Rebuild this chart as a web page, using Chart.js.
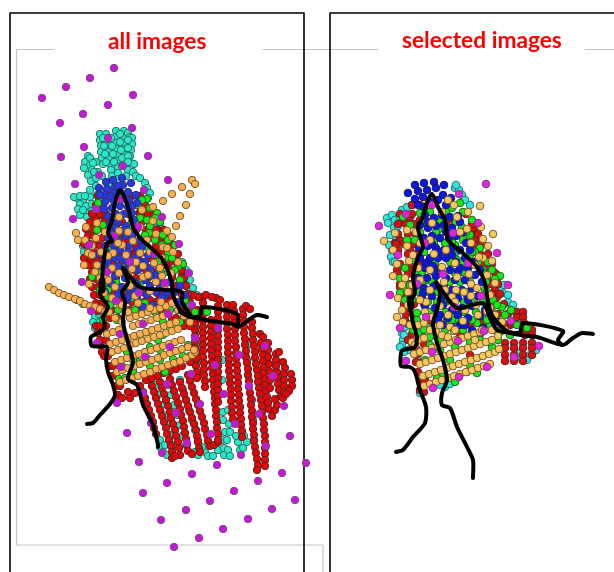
<!DOCTYPE html>
<html><head><meta charset="utf-8">
<style>
html,body{margin:0;padding:0;background:#fff;width:614px;height:572px;overflow:hidden}
#wrap{position:relative;width:614px;height:572px}
canvas{position:absolute;left:0;top:0;filter:blur(0.4px)}
.t{position:absolute;color:#f00;font:bold 22.7px Lato,sans-serif;white-space:nowrap;line-height:24px}
</style>
<script src="https://cdn.jsdelivr.net/npm/chart.js@4"></script>
</head><body>
<div id="wrap"><canvas id="c" width="614" height="572"></canvas>
<div class="t" id="t1" style="left:108px;top:29px">all images</div>
<div class="t" id="t2" style="left:402px;top:28px">selected images</div></div>
<script>
const leftCyan=[100,134,100,140,101,146,101,152,102,158,103,164,106,134,107,140,107,146,108,152,109,158,110,164,111,170,112,176,116,131,116,137,116,143,116,149,117,155,117,161,118,167,118,173,124,131,124,137,124,143,125,149,125,155,126,161,126,167,128,133,130,137,132,138,132,144,131,150,130,156,130,162,134,164,128,170,133,172,136,176,126,176,119,179,88,156,85,162,90,165,96,162,92,170,98,172,88,175,91,181,96,178,102,176,107,182,110,186,77,198,83,200,90,197,97,195,102,193,80,204,86,206,92,204,99,200,78,209,85,212,92,211,80,215,87,217,94,215,140,178,145,183,147,188,150,193,148,198,157,222,161,228,165,233,176,255,182,262,186,270,190,280,193,288,197,295,83,246,84,252,86,258,95,316,93,322,95,328,100,322,99,314,155,385,158,395,161,405,164,415,167,425,170,435,173,445,168,385,171,395,174,405,177,415,180,425,183,435,186,445,180,380,183,390,186,400,189,410,192,420,195,430,198,440,160,440,160,447,165,445,163,452,167,455,195,452,198,455,205,452,208,456,213,456,218,450,208,446,202,447,224,448,224,455,228,450,230,456,222,440,227,440,225,432,230,432,229,424,223,420,223,412,228,410,238,442,240,450,236,436,243,448,247,442,244,436,200,330,200,345,200,360,212,350,222,360,222,380,247,345,247,360,248,375,252,400,253,420,254,440];
const leftCyanMore=[103,138,104,146,105,154,106,162,111,138,112,146,113,154,114,162,120,134,120,142,121,150,122,158,122,166,128,140,128,148,128,156,128,162,94,172,84,168,90,158,93,163,83,210,90,190,96,186,74,197,80,196,85,196];
const leftRed=[143,392,145,398,147,404,149,410,151,416,153,422,154,428,156,434,150,380,152,386,154,392,156,398,158,404,160,410,162,416,164,422,166,428,167,434,169,440,171,446,172,452,172,458,160,382,162,388,164,394,166,400,168,406,170,412,171,418,173,424,175,430,176,436,178,442,179,448,180,455,175,456,170,379,172,385,174,391,176,397,178,403,180,409,181,415,183,421,184,427,185,433,186,439,187,445,188,451,192,454,180,382,182,388,184,394,186,400,188,406,190,412,192,418,194,424,196,430,197,436,198,442,199,448,200,452,188,375,190,381,192,387,194,393,196,399,198,405,200,411,202,417,204,423,205,429,207,435,208,441,210,446,214,445,218,442,195,324,195,330,195,336,195,342,195,348,196,354,196,360,196,366,197,372,197,378,203,297,203,303,203,309,203,315,203,321,203,327,203,333,203,339,203,345,203,351,203,357,204,363,204,369,204,375,205,381,205,387,211,320,211,326,211,332,211,338,211,344,211,350,212,356,212,362,212,368,213,374,213,380,214,386,214,392,215,398,215,404,216,410,216,416,217,422,217,428,218,434,218,440,216,298,220,300,218,306,218,312,218,318,218,324,218,330,218,336,218,342,218,348,218,354,218,360,218,366,218,372,218,378,218,384,218,390,218,396,218,402,227,305,227,311,227,317,227,323,227,329,228,335,228,341,228,347,228,353,229,359,229,365,229,371,230,377,230,383,231,389,231,395,231,401,232,407,232,413,233,419,233,305,234,311,234,317,234,323,235,329,235,335,235,341,236,347,236,353,236,359,237,365,237,371,238,377,238,383,238,389,239,395,239,401,240,407,240,413,241,419,241,425,242,431,242,437,243,309,246,306,250,309,243,315,244,321,244,327,244,333,245,339,245,345,246,351,246,357,247,363,248,369,248,375,249,381,249,387,250,393,251,399,251,405,252,411,252,417,253,423,253,429,254,435,254,441,255,447,256,453,257,459,258,465,257,470,252,322,252,328,253,334,253,340,254,346,255,352,255,358,256,364,257,370,258,376,258,382,259,388,260,394,261,400,262,406,262,412,263,418,264,424,264,430,265,436,265,442,265,448,265,454,265,460,265,466,260,334,263,337,261,343,262,349,263,355,263,361,264,367,264,373,265,379,265,385,266,391,267,397,268,403,269,409,272,416,275,410,277,405,275,399,268,343,268,350,268,357,269,364,270,372,270,380,270,388,276,354,279,352,276,360,276,366,277,372,277,378,278,384,279,390,281,396,283,362,285,368,284,374,284,380,284,386,284,392,283,398,291,374,292,380,292,386,289,391,286,394,198,297,206,295,212,297,118,395,122,398,130,398,135,393,128,392,140,386,146,380,152,378,158,376,164,373,170,371,176,369,182,366,190,362,196,358,90,222,96,218,102,215,86,229,92,229,98,226,88,236,94,236,84,244,90,244,96,244,88,252,94,252,84,258,90,258,96,258,88,265,94,265,92,272,98,272,90,279,96,279,92,287,98,287,94,295,100,295,96,303,102,303,98,311,104,311,96,326,98,333,100,345,102,352,135,205,140,212,148,215,150,225,158,230,150,238,160,240,170,240,160,250,172,250,178,262,170,262,182,275,172,275,185,285,178,285,190,295,182,295,188,303,193,295,110,240,120,222,130,215,125,240,135,252,150,258,165,265,140,290,150,300,160,310,170,300,180,310,187,312,172,320,110,300,105,290,120,300,130,310];
const leftRedMore=[98,196,132,196,140,196,96,205,102,205,138,205,145,205,92,214,100,214,106,214,130,214,140,214,148,214,154,214,104,222,112,222,122,222,132,222,142,222,152,222,160,222,104,230,110,230,118,230,128,230,136,230,146,230,156,230,164,230,102,238,114,238,122,238,132,238,144,238,152,238,166,238,100,246,108,246,118,246,128,246,136,246,146,246,156,246,166,246,172,246,100,254,110,254,120,254,130,254,140,254,152,254,162,254,170,254,178,254,102,262,112,262,122,262,132,262,144,262,156,262,166,262,176,262,104,270,114,270,124,270,134,270,146,270,158,270,170,270,182,270,106,278,116,278,126,278,136,278,148,278,160,278,172,278,184,278,108,286,118,286,128,286,138,286,150,286,162,286,174,286,186,286,106,294,114,294,124,294,134,294,146,294,158,294,170,294,188,294,104,302,112,302,122,302,132,302,144,302,156,302,168,302,176,302,190,302,106,310,112,310,126,310,140,310,152,310,166,310,178,310,190,310,197,310,104,318,110,318,118,318,176,318,184,318,192,318,197,318,100,326,106,326,184,326,190,326,100,340,106,340,104,356,108,356,110,366,113,366,112,376,116,386,120,386];
const leftGreen=[147,199,142,200,157,213,147,220,149,233,163,235,168,253,178,267,183,264,147,247,97,230,98,203,92,277,100,273,138,205,150,208,155,218,160,222,150,226,140,218,130,225,155,240,162,245,168,240,175,245,172,258,165,258,158,262,175,270,168,272,180,280,160,270,150,272,140,283,130,280,122,290,108,290,100,290,107,297,117,320,103,320,118,310,110,305,135,310,147,310,175,327,180,322,188,345,207,312,83,304,77,300,163,335,150,347,160,350,172,350,138,362,148,359,160,360,173,359,183,356,133,371,119,379,173,325,190,356,140,335,127,352,147,332,167,329];
const leftGreenMore=[103,225,110,232,117,238,135,232,145,235,110,250,125,268,140,262,155,255,104,283,116,282,132,298,145,303,155,312,170,310,163,322,185,300,190,305,195,312,158,340,145,352,133,360,122,366,125,378,150,366,165,372];
const leftBlue=[106,182,113,180,122,178,131,183,123,185,115,187,107,189,99,188,105,195,113,193,120,192,128,192,136,195,105,202,113,200,121,199,129,200,137,203,104,209,112,208,120,206,128,207,108,216,116,214,124,214,132,213,110,224,118,222,126,226,134,220,112,232,124,230,132,235,108,238,118,240,126,236,140,240,105,246,114,246,130,245,142,247,120,250,128,252,138,250,148,255,95,255,105,258,115,258,125,260,135,258,145,262,100,265,108,268,118,266,128,268,138,270,150,268,115,276,125,278,135,282,145,280,155,275,112,284,122,287,130,290,140,292,150,286,160,288,170,282,105,292,118,294,127,300,137,298,147,295,156,292,165,295,180,286,143,307,128,297,180,302,185,295,137,284,162,297,153,305];
const leftBlueMore=[110,196,118,186,126,199,132,206,100,195,116,228,106,252,120,258,130,268,140,262,150,276,135,292,158,282,168,292,175,292,108,262];
const leftOrange=[192,180,195,184,182,187,172,194,190,194,163,201,186,205,153,207,180,216,176,226,167,231,172,237,163,247,173,252,76,233,86,227,97,223,85,240,96,238,119,217,142,210,153,221,140,227,119,231,156,234,133,241,122,245,113,253,88,253,97,265,84,265,140,253,167,248,143,266,154,263,132,269,119,273,108,280,143,277,156,282,162,276,171,273,89,284,115,287,100,278,49,287,54,290,59,293,64,295,69,297,75,299,80,301,85,304,90,306,95,307,120,382,126,380,132,378,138,376,144,374,150,372,156,369,162,367,168,365,174,363,180,361,186,358,192,355,195,352,117,372,122,370,128,368,134,366,140,364,146,362,152,360,158,358,164,355,170,353,176,351,182,349,188,347,194,350,115,362,121,360,127,358,133,356,139,354,145,352,151,350,157,348,163,346,169,344,175,342,181,340,112,352,118,350,124,348,130,345,136,343,142,341,148,339,154,337,160,335,166,333,172,331,178,329,110,344,116,342,122,340,128,338,134,336,140,334,146,332,152,330,158,328,164,326,170,324,176,322,107,334,113,332,119,330,133,326,139,324,145,322,151,320,157,318,163,316,169,313,130,318,136,316,142,314,148,312,154,310,160,308,166,306,125,310,120,305,112,298,104,293];
const leftOrangeMore=[101,252,92,246,108,256,126,255,150,252,128,275,95,272,104,275,136,262,148,275,160,268,178,262,165,285,150,291,135,296,122,305,138,303,150,308,100,309,105,312,109,312,115,318,122,322,128,312,161,302,172,303,178,310,184,316,190,322,130,286,112,268,118,243,105,232,128,232,147,240,162,258,92,255,78,240];
const leftPurple=[42,98,66,87,90,78,114,68,133,95,108,105,83,114,60,123,132,128,108,138,84,147,61,157,148,156,123,166,99,175,75,184,168,180,144,190,96,209,73,219,162,217,138,227,114,236,89,245,179,244,154,254,130,262,107,272,82,282,189,273,165,283,121,199,91,311,116,301,139,293,168,314,192,305,143,324,120,334,97,343,218,328,195,338,170,347,145,357,121,367,265,346,239,355,215,365,191,374,167,384,143,393,117,403,273,376,249,386,224,394,200,404,176,413,151,423,127,433,284,406,259,414,235,424,211,434,187,443,162,453,139,462,290,436,266,446,241,455,217,465,192,474,167,483,143,493,306,463,282,473,258,481,234,491,210,501,186,510,161,520,295,500,272,509,248,519,223,529,199,538,174,547];
const rightCyan=[455,188,459,190,462,195,387,218,392,215,388,223,395,220,400,217,402,210,390,235,392,250,391,257,393,262,503,293,508,302,512,308,500,288,402,333,403,340,402,345,520,353,530,355,420,393,445,387,407,207,412,205,394,228,398,226,389,245,396,240,395,262,397,275,494,272,497,280,504,285,508,295,513,305,515,312,518,318,405,327,404,335,408,350,522,359,536,350,527,360,400,347,404,352,440,385,450,384,456,185,465,200,470,205];
const rightRed=[400,240,395,243,398,250,397,270,400,287,477,232,473,228,475,240,487,270,495,290,497,297,488,280,405,310,405,320,408,340,412,343,517,312,523,312,517,317,523,317,524,323,505,343,514,343,523,343,532,343,505,348,514,348,523,348,532,348,505,355,514,355,523,355,532,355,505,361,514,361,523,361,525,330,532,330,525,335,532,335,420,390,417,350,453,220,403,220,410,217,410,293,472,333,483,323,420,220,410,250,412,270,480,265,490,300,415,345,425,380,470,355,500,330,510,325];
const rightRedMore=[412,205,420,205,450,205,400,214,412,214,442,214,466,214,398,224,406,224,414,224,446,224,472,224,398,234,408,234,416,234,470,234,478,234,396,244,404,244,414,244,474,244,482,244,398,254,408,254,416,254,480,254,488,254,400,264,410,264,418,264,484,264,492,264,398,274,408,274,416,274,486,274,496,274,400,284,410,284,420,284,490,284,498,284,402,294,412,294,422,294,492,294,500,294,404,304,414,304,424,304,494,304,504,304,406,314,416,314,426,314,498,314,508,314,408,324,418,324,428,324,440,324,470,324,490,324,504,324,512,324,412,334,422,334,436,334,460,334,480,334,498,334,510,334,414,344,424,344,418,354,416,362,422,362,418,372,420,382,425,382,424,392];
const rightGreen=[460,203,452,208,463,212,472,220,462,227,470,235,480,248,463,240,492,270,500,276,495,279,502,307,511,310,493,300,527,328,498,340,492,347,490,342,403,217,400,278,403,288,407,240,405,268,417,313,413,330,445,330,477,323,463,330,455,320,447,320,430,337,442,373,477,373,467,372,418,333,400,293,427,327,457,260,435,263,417,275,427,280,410,225,445,243,440,290,475,252,412,300,420,213,415,240,412,260,438,230,455,245,470,255,475,262,483,270,488,262,485,290,497,305,505,315,490,325,500,332,510,335,517,325,480,340,470,342,455,347,440,350,430,345,424,330,440,340,417,320,410,285,405,300,425,360,450,360,437,378,455,382,470,365];
const rightGreenMore=[430,212,446,212,424,222,440,222,456,222,420,232,436,232,448,232,466,232,424,242,434,242,452,242,470,242,424,252,440,252,456,252,472,252,428,262,450,262,462,262,478,262,422,272,437,272,454,272,462,272,482,272,422,282,432,282,450,282,460,282,470,282,486,282,419,292,429,292,438,292,447,292,458,292,468,292,487,292,428,302,437,302,446,302,464,302,474,302,483,302,430,312,446,312,455,312,464,312,476,312,486,312,492,312,438,320,452,320,472,320,487,320,496,320];
const rightBlue=[415,185,424,183,434,182,444,185,408,193,418,191,427,190,436,188,443,195,415,199,423,197,451,198,430,202,438,200,446,205,424,207,418,205,425,215,434,218,442,215,450,217,458,216,420,225,428,228,436,226,444,225,452,228,460,222,424,238,432,236,440,238,449,238,456,236,463,232,419,248,428,246,436,248,444,250,452,248,460,250,466,243,420,258,430,258,438,258,446,258,456,262,465,258,425,268,433,266,441,268,450,270,458,272,468,268,474,262,418,278,427,278,436,276,446,278,455,280,465,280,475,275,480,270,415,286,424,288,434,286,444,287,452,290,462,290,472,288,482,282,422,298,432,296,441,300,450,300,458,298,468,300,478,296,425,306,435,308,443,305,452,310,462,308,472,306,485,310,440,315,448,318,458,315,468,318,480,316,490,312,443,325,452,327,465,325,472,330,483,328,498,322];
const rightBlueMore=[428,222,446,232,432,244,440,252,426,263,452,255,470,250,434,272,460,268,423,293,445,295,467,295,438,320,460,325];
const rightYellow=[480,206,481,227,493,234,483,239,488,246,483,258,492,261,479,257,384,241,395,233,407,230,393,250,407,246,397,264,409,261,393,276,405,278,398,298,408,292,402,310,397,317,403,322,432,223,430,240,457,217,468,212,467,229,471,243,434,254,446,250,455,263,430,270,442,267,457,277,444,282,469,274,477,288,471,284,464,292,456,290,452,297,471,296,426,302,448,315,478,315,463,321,450,327,502,322,487,311,424,386,430,384,436,382,442,380,448,378,454,376,460,374,466,372,472,370,478,368,484,366,490,364,423,376,429,374,435,372,441,370,447,368,453,366,459,364,465,362,471,360,477,358,483,356,489,354,495,352,499,349,420,364,426,362,432,360,438,358,444,356,450,354,456,352,462,350,468,348,474,346,480,344,486,342,492,340,414,354,420,352,426,350,432,348,438,346,444,344,450,342,456,340,462,338,468,336,474,334,480,332,412,342,418,340,424,338,418,325,424,323,430,330,436,332,442,335,448,337,454,331];
const rightYellowMore=[416,232,420,243,418,268,420,280,412,285,420,300,430,290,440,306,455,302,465,310,490,295,476,305,495,315,505,330,475,340,455,330,440,325,432,317,425,312,410,325,415,345,408,305,402,285,413,255,445,290,495,283,487,275,475,265,460,232,448,200,442,212,454,205,490,308,482,330,492,330,498,336];
const rightMagenta=[486,184,459,194,432,205,406,214,379,226,478,223,453,233,425,243,398,255,497,253,468,263,443,274,417,284,390,295,508,285,481,296,454,307,426,317,400,328,511,321,484,331,458,341,432,352,406,361,539,346,514,357,487,367,459,377,433,388];
const leftTracks=[
[87,424,93,423,100,415,110,404,115,395,113,385,108,372,106,359,107,347,92,346,91,337,100,332,105,327,103,317,108,307,100,294,102,284,103,267,107,243,112,241,108,233,112,220,115,203,120,190,128,207,133,227,140,238,150,247,163,260,172,283,173,295,182,312,200,319,233,324,238,327,250,319,257,315,267,317],
[238,327,237,314,202,307,200,316,190,317,180,312],
[123,268,128,283,122,292,125,302,123,322,128,342,133,362,128,379,137,385,143,405,153,425,158,445,158,447],
[123,268,140,287,167,290,182,292,182,302,190,315]];
const rightTracks=[
[396,452,403,450,413,437,425,423,426,407,420,390,415,372,410,367,401,366,401,353,403,350,415,347,417,337,413,323,410,303,415,293,413,277,418,257,423,247,418,228,423,217,427,202,432,194,438,207,445,220,448,240,463,253,477,267,485,283,488,302,493,317,510,333,537,337,563,345,573,338,582,333,593,334],
[562,345,558,340,563,331,523,323,520,332,510,333],
[436,282,440,293,437,310,433,323,437,343,443,360,447,380,442,393,442,405,450,408,457,427,467,447,473,460,473,478],
[436,282,457,308,483,303,490,318,497,330,510,333]];
const trackBlobs=[[102,281,102,290],[410,299,411,307]];
const blackFrames=[[10,572,10,13,304,13,304,572],[330,572,330,13,614,13]];
const greyRules=[[54,49.5,16.5,49.5,16.5,545,323,545,323,572],[263,49.5,378,49.5],[585,49.5,614,49.5]];

const pts=a=>{const o=[];for(let i=0;i<a.length;i+=2)o.push({x:a[i],y:a[i+1]});return o;};
const dots=(a,fill,edge,r)=>({type:'scatter',data:pts(a),backgroundColor:fill,borderColor:edge,borderWidth:1,pointRadius:r,pointBorderWidth:1,showLine:false});
const line=(a,col,w,t)=>({type:'scatter',data:pts(a),showLine:true,borderColor:col,borderWidth:w,pointRadius:0,tension:t,fill:false,borderCapStyle:'round',borderJoinStyle:'round'});
const datasets=[
 ...trackBlobs.map(a=>line(a,'#000',7,0)),
 ...leftTracks.map(a=>line(a,'#000',4,0.25)),
 ...rightTracks.map(a=>line(a,'#000',4,0.25)),
 dots(leftPurple,'#c814dc','#7a4a80',3.7),
 dots(rightMagenta,'#e820e0','#7a3a7a',3.8),
 dots(leftOrange.concat(leftOrangeMore),'#f8b050','#7a5a30',3.7),
 dots(rightYellow.concat(rightYellowMore),'#f8c860','#7a5a30',3.8),
 dots(leftBlue.concat(leftBlueMore),'#2838e0','#303070',3.7),
 dots(rightBlue.concat(rightBlueMore),'#0c18e0','#181860',3.8),
 dots(leftGreen.concat(leftGreenMore),'#18e818','#206020',3.7),
 dots(rightGreen.concat(rightGreenMore),'#18e818','#206020',3.8),
 dots(leftRed.concat(leftRedMore),'#e00808','#602020',3.7),
 dots(rightRed.concat(rightRedMore),'#d81010','#602020',3.8),
 dots(leftCyan.concat(leftCyanMore),'#28e8c8','#2a7068',3.7),
 dots(rightCyan,'#30e8e0','#2a7070',3.8),
 ...blackFrames.map(a=>line(a,'#000',1.6,0)),
 ...greyRules.map(a=>line(a,'#c4c4c4',1.2,0))
];
new Chart(document.getElementById('c'),{type:'scatter',data:{datasets},options:{
 responsive:false,animation:false,events:[],
 layout:{padding:0,autoPadding:false},
 plugins:{legend:{display:false},tooltip:{enabled:false},title:{display:false}},
 scales:{x:{type:'linear',display:false,min:0,max:614},y:{type:'linear',display:false,min:0,max:572,reverse:true}}
}});
</script></body></html>
